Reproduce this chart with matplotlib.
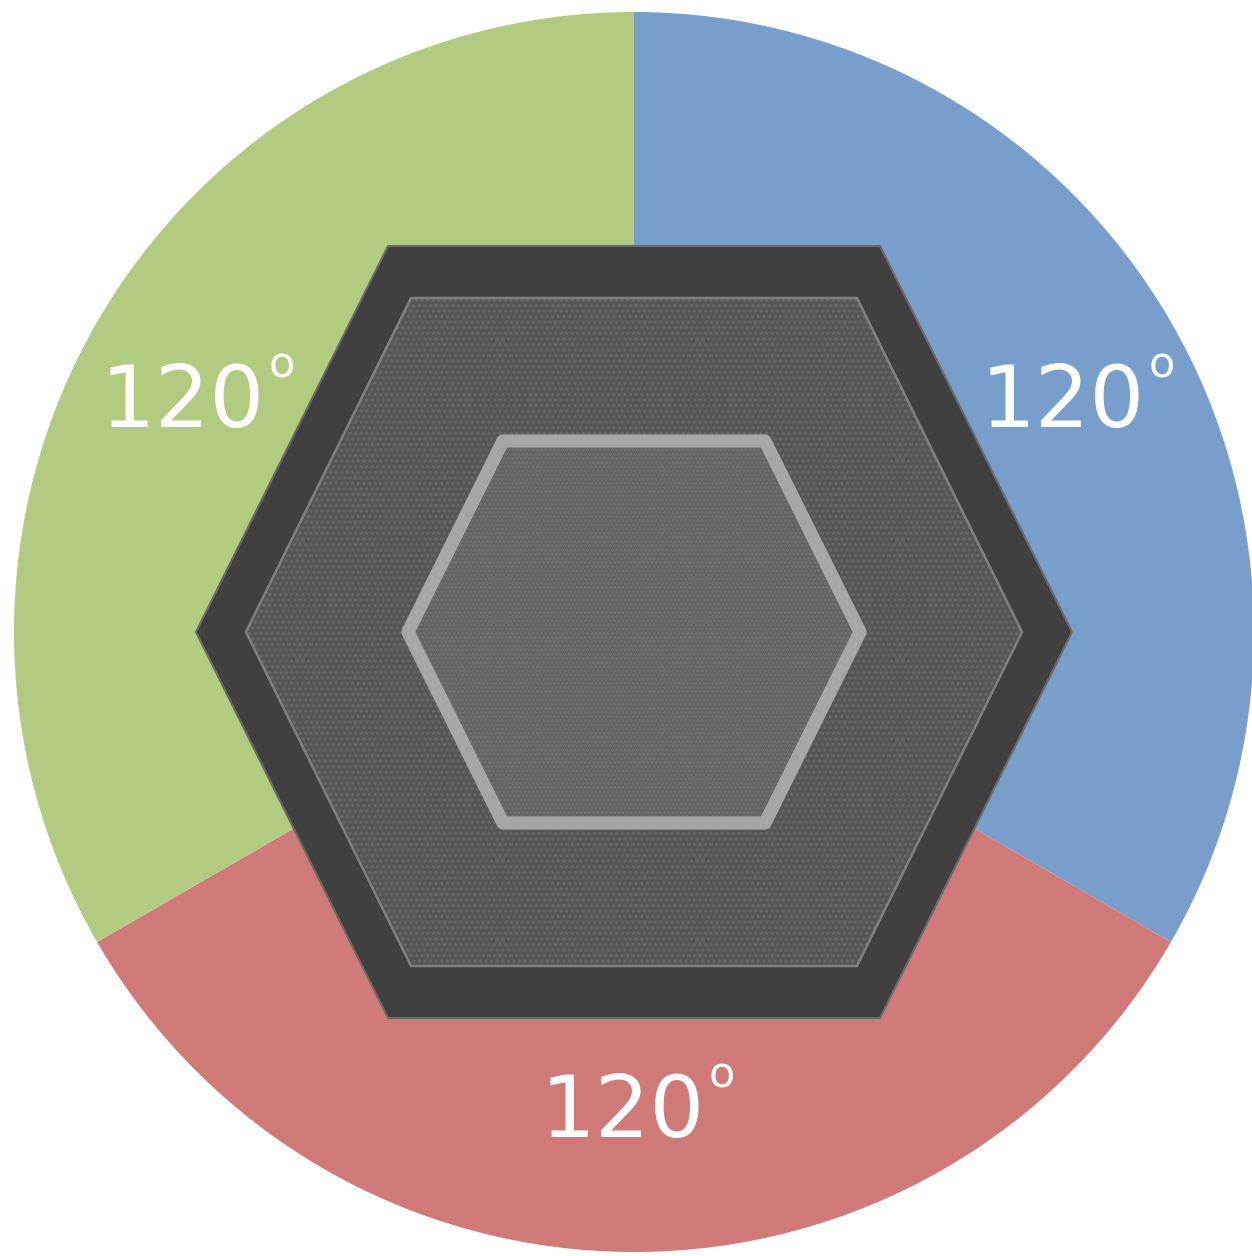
import matplotlib
matplotlib.use('Agg')
import matplotlib.pyplot as plt
from matplotlib.patches import Polygon
import numpy as np

# three equal sectors of the pie
labels = ["120", "120", "120"]
angles = [120, 120, 120]
colors = ["#789ecc", "#cf7a78", "#b3ca81"]

W, H = 1252, 1256
cx, cy = 634, H - 632


def hexagon(w, t, h):
    # flat-top hexagon: w = half width, t = half top edge, h = half height
    return np.array([[cx - w, cy], [cx - t, cy + h], [cx + t, cy + h],
                     [cx + w, cy], [cx + t, cy - h], [cx - t, cy - h]])


fig = plt.figure(figsize=(12.52, 12.56), dpi=100)
ax = fig.add_axes([0, 0, 1, 1])

ax.pie(angles, colors=colors, startangle=90, counterclock=False,
       center=(cx, cy), radius=620, frame=True,
       wedgeprops=dict(linewidth=0))

# outer dark hexagon
ax.add_patch(Polygon(hexagon(438, 246, 386), closed=True, facecolor="#404040",
                     edgecolor="#6a6a6a", linewidth=1.5, zorder=3))

# middle textured hexagon
plt.rcParams['hatch.linewidth'] = 1.5
ax.add_patch(Polygon(hexagon(388, 223, 334), closed=True, facecolor="#565656",
                     edgecolor="none", zorder=4))
ax.add_patch(Polygon(hexagon(388, 223, 334), closed=True, facecolor="none",
                     edgecolor="#6a6a6a", hatch="...", linewidth=0, zorder=5))
ax.add_patch(Polygon(hexagon(388, 223, 334), closed=True, facecolor="none",
                     edgecolor="#808080", linewidth=1.8, zorder=6))

# inner hexagon with light border
ax.add_patch(Polygon(hexagon(226, 131, 191), closed=True, facecolor="#626262",
                     edgecolor="none", zorder=7))
ax.add_patch(Polygon(hexagon(226, 131, 191), closed=True, facecolor="none",
                     edgecolor="#747474", hatch="....", linewidth=0, zorder=8))
ax.add_patch(Polygon(hexagon(226, 131, 191), closed=True, facecolor="none",
                     edgecolor="#a6a6a6", linewidth=9.5, joinstyle="round", zorder=9))

# labels, one per sector
label_pos = [(1063, H - 403), (623, H - 1113), (183, H - 403)]
for lab, (x, y) in zip(labels, label_pos):
    ax.text(x, y, lab, fontsize=62, color="white", family="DejaVu Sans",
            ha="center", va="center", zorder=10)
    ax.text(x + 99, y + 37, "o", fontsize=31, color="white",
            family="DejaVu Sans", ha="center", va="center", zorder=10)

ax.set_xlim(0, W)
ax.set_ylim(0, H)
ax.set_aspect("equal")
ax.axis("off")

plt.savefig("out.png", dpi=100, facecolor="white")
